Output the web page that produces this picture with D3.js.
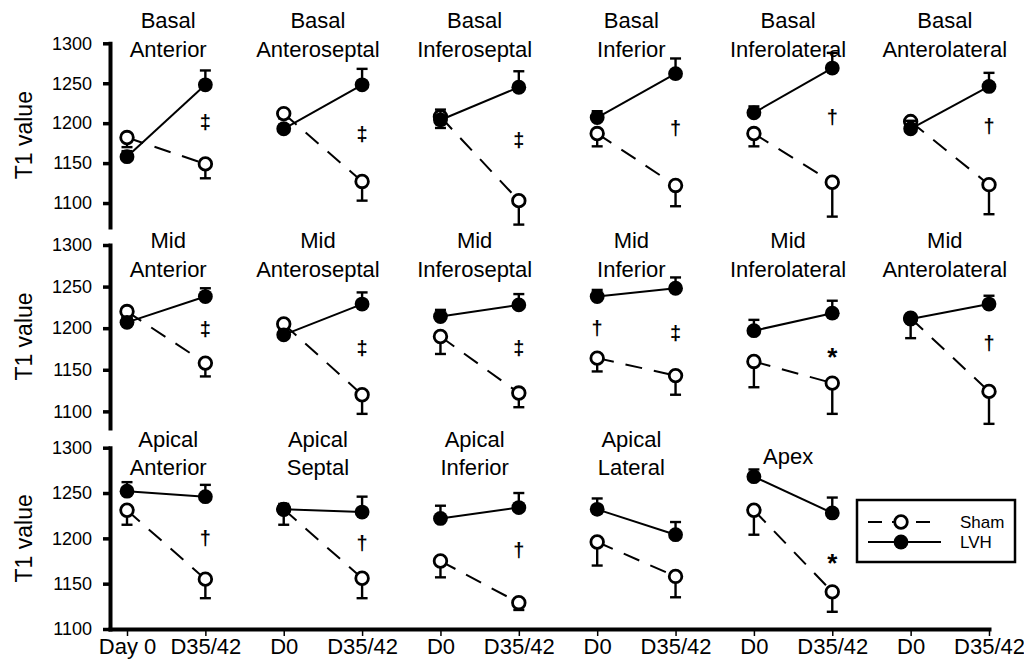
<!DOCTYPE html>
<html>
<head>
<meta charset="utf-8">
<script src="https://cdn.jsdelivr.net/npm/d3@7"></script>
<style>
  html, body { margin: 0; padding: 0; background: #fff; }
  svg { display: block; font-family: "Liberation Sans", Arial, Helvetica, sans-serif; }
</style>
</head>
<body>
<svg id="chart" width="1024" height="668"></svg>
<script>
// ---- data -------------------------------------------------------------
// LV segments (17-segment model), title split over two lines
const segmentLevel = [
  "Basal", "Basal", "Basal", "Basal", "Basal", "Basal",
  "Mid", "Mid", "Mid", "Mid", "Mid", "Mid",
  "Apical", "Apical", "Apical", "Apical", ""
];
const segmentName = [
  "Anterior", "Anteroseptal", "Inferoseptal", "Inferior", "Inferolateral", "Anterolateral",
  "Anterior", "Anteroseptal", "Inferoseptal", "Inferior", "Inferolateral", "Anterolateral",
  "Anterior", "Septal", "Inferior", "Lateral", "Apex"
];

// time point labels along the shared x axis
const timeLabels = [
  "Day 0", "D35/42", "D0", "D35/42", "D0", "D35/42",
  "D0", "D35/42", "D0", "D35/42", "D0", "D35/42"
];

// T1 (ms) mean and SEM per segment: [Day 0, D35/42]
const shamMean = [
  [1182, 1149], [1212, 1127], [1208, 1103], [1187, 1122], [1187, 1126], [1202, 1123],
  [1220, 1158], [1205, 1120], [1190, 1122], [1164, 1143], [1160, 1134], [1212, 1124],
  [1231, 1155], [1232, 1156], [1175, 1129], [1196, 1158], [1231, 1141]
];
const shamSEM = [
  [12, 18], [6, 24], [14, 30], [16, 26], [16, 43], [6, 37],
  [8, 16], [6, 23], [21, 17], [16, 23], [31, 37], [24, 39],
  [16, 21], [17, 22], [18, 8], [26, 23], [27, 22]
];
const lvhMean = [
  [1158, 1248], [1193, 1248], [1204, 1245], [1207, 1262], [1213, 1269], [1193, 1246],
  [1207, 1238], [1192, 1229], [1214, 1228], [1238, 1248], [1197, 1218], [1211, 1229],
  [1252, 1246], [1232, 1229], [1222, 1234], [1232, 1204], [1268, 1228]
];
const lvhSEM = [
  [7, 18], [5, 20], [13, 20], [8, 19], [8, 19], [10, 17],
  [6, 10], [5, 14], [8, 13], [8, 13], [13, 15], [6, 10],
  [10, 13], [6, 17], [14, 16], [12, 14], [8, 17]
];

// significance markers: [segment, time index, symbol, T1 level]
const sigMarks = [
  [0, 1, "\u2021", 1202], [1, 1, "\u2021", 1187], [2, 1, "\u2021", 1179],
  [3, 1, "\u2020", 1194], [4, 1, "\u2020", 1208], [5, 1, "\u2020", 1196],
  [6, 1, "\u2021", 1199], [7, 1, "\u2021", 1176], [8, 1, "\u2021", 1176],
  [9, 0, "\u2020", 1200], [9, 1, "\u2021", 1194], [10, 1, "*", 1173],
  [11, 1, "\u2020", 1182],
  [12, 1, "\u2020", 1200], [13, 1, "\u2020", 1195], [14, 1, "\u2020", 1187],
  [16, 1, "*", 1180]
];

const yTicks = [1100, 1150, 1200, 1250, 1300];
const seriesNames = ["Sham", "LVH"];

// ---- layout -----------------------------------------------------------
const rowLayout = [
  { top: 43.3, bottom: 227, lo: 1070, title1: 27.5, title2: 56.5 },
  { top: 245,  bottom: 428, lo: 1080, title1: 248,  title2: 277 },
  { top: 447.7, bottom: 629, lo: 1100, title1: 446.5, title2: 475 }
];
const axisX = 110;
const openR = 6.3, filledR = 7.4;

const svg = d3.select("#chart");
const x = d3.scaleLinear().domain([-0.217, 11]).range([axisX, 989]);
const yScales = rowLayout.map(r =>
  d3.scaleLinear().domain([r.lo, 1300]).range([r.bottom, r.top]));

// ---- y axes, one per row ----------------------------------------------
rowLayout.forEach((r, ri) => {
  const g = svg.append("g")
    .attr("transform", `translate(${axisX},0)`)
    .call(d3.axisLeft(yScales[ri]).tickValues(yTicks).tickSize(7)
      .tickSizeOuter(0).tickPadding(11).tickFormat(d3.format("d")));
  g.select(".domain").attr("stroke", "#000").attr("stroke-width", 4)
    .attr("stroke-linecap", "square");
  g.selectAll(".tick line").attr("stroke", "#000").attr("stroke-width", 3.5);
  g.selectAll(".tick text").attr("fill", "#000")
    .style("font-size", "18px").style("font-family", "inherit");

  svg.append("text")
    .attr("transform", `translate(32,${(r.top + r.bottom) / 2}) rotate(-90)`)
    .attr("text-anchor", "middle")
    .style("font-size", "23px")
    .text("T1 value");
});

// ---- shared x axis ----------------------------------------------------
const xg = svg.append("g")
  .attr("transform", `translate(0,${rowLayout[2].bottom})`)
  .call(d3.axisBottom(x).tickValues(d3.range(timeLabels.length))
    .tickFormat(i => timeLabels[i]).tickSize(7).tickSizeOuter(0).tickPadding(2.5));
xg.select(".domain").attr("stroke", "#000").attr("stroke-width", 4)
  .attr("stroke-linecap", "square");
xg.selectAll(".tick line").attr("stroke", "#000").attr("stroke-width", 1.5);
xg.selectAll(".tick text").attr("fill", "#000")
  .style("font-size", "22px").style("font-family", "inherit");

// ---- panels -----------------------------------------------------------
const line = d3.line();

segmentName.forEach((name, p) => {
  const row = Math.floor(p / 6), col = p % 6;
  const y = yScales[row];
  const lay = rowLayout[row];
  const xs = [x(col * 2), x(col * 2 + 1)];
  const g = svg.append("g").attr("class", "panel");

  // panel title
  const cx = (xs[0] + xs[1]) / 2 + (col === 0 ? 2 : -5);
  const t = g.append("text").attr("text-anchor", "middle").style("font-size", "22px");
  if (segmentLevel[p]) {
    t.append("tspan").attr("x", cx).attr("y", lay.title1).text(segmentLevel[p]);
    t.append("tspan").attr("x", cx).attr("y", lay.title2).text(name);
  } else {
    t.attr("x", cx).attr("y", (lay.title1 + lay.title2) / 2 + 3).text(name);
  }

  // draw one group: connecting line, error bars, markers
  const drawSeries = (mean, sem, dir, open) => {
    g.append("path")
      .attr("d", line(xs.map((xv, i) => [xv, y(mean[i])])))
      .attr("fill", "none").attr("stroke", "#000").attr("stroke-width", 2)
      .attr("stroke-dasharray", open ? "17,12" : null);
    xs.forEach((xv, i) => {
      const yEnd = y(mean[i] + dir * sem[i]);
      g.append("line").attr("x1", xv).attr("x2", xv)
        .attr("y1", y(mean[i])).attr("y2", yEnd)
        .attr("stroke", "#000").attr("stroke-width", 2.4);
      g.append("line").attr("x1", xv - 5.5).attr("x2", xv + 5.5)
        .attr("y1", yEnd).attr("y2", yEnd)
        .attr("stroke", "#000").attr("stroke-width", 2.4);
    });
    xs.forEach((xv, i) => {
      g.append("circle").attr("cx", xv).attr("cy", y(mean[i]))
        .attr("r", open ? openR : filledR)
        .attr("fill", open ? "#fff" : "#000")
        .attr("stroke", "#000").attr("stroke-width", open ? 2.8 : 0);
    });
  };
  drawSeries(shamMean[p], shamSEM[p], -1, true);
  drawSeries(lvhMean[p], lvhSEM[p], 1, false);
});

// ---- significance symbols ---------------------------------------------
sigMarks.forEach(([p, ti, sym, v]) => {
  const row = Math.floor(p / 6), col = p % 6;
  const star = sym === "*";
  svg.append("text")
    .attr("x", x(col * 2 + ti))
    .attr("y", yScales[row](v))
    .attr("text-anchor", "middle")
    .attr("dominant-baseline", "central")
    .attr("dy", star ? "0.24em" : "0")
    .style("font-size", star ? "26px" : "20px")
    .style("font-weight", "bold")
    .text(sym);
});

// ---- legend -----------------------------------------------------------
const lg = svg.append("g").attr("transform", "translate(857,500)");
lg.append("rect").attr("width", 158).attr("height", 62)
  .attr("fill", "#fff").attr("stroke", "#000").attr("stroke-width", 2.5);
seriesNames.forEach((s, i) => {
  const open = i === 0;
  const ly = 22 + i * 20;
  lg.append("line").attr("x1", 11).attr("x2", open ? 75 : 84)
    .attr("y1", ly).attr("y2", ly)
    .attr("stroke", "#000").attr("stroke-width", 2)
    .attr("stroke-dasharray", open ? "14,10" : null);
  lg.append("circle").attr("cx", 44).attr("cy", ly)
    .attr("r", open ? openR : filledR)
    .attr("fill", open ? "#fff" : "#000")
    .attr("stroke", "#000").attr("stroke-width", open ? 2.8 : 0);
  lg.append("text").attr("x", 103).attr("y", ly + 6)
    .style("font-size", "17px").text(s);
});
</script>
</body>
</html>
